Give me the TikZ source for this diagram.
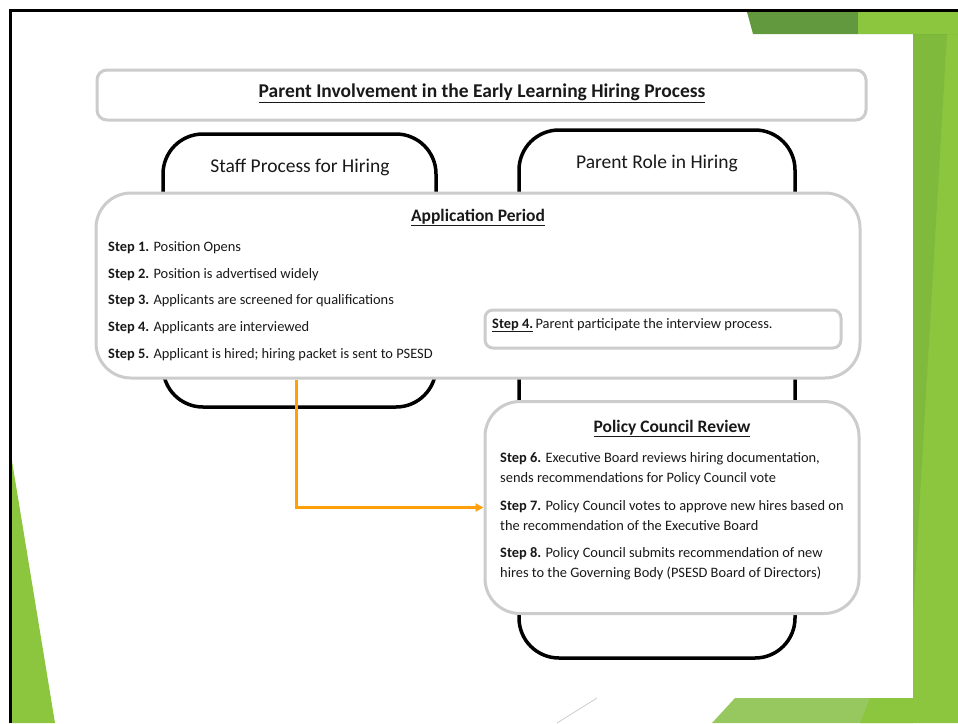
\documentclass[tikz,border=0pt]{standalone}
\usepackage{fontspec}
\setmainfont{Carlito}
\usetikzlibrary{arrows.meta}
\definecolor{lime}{RGB}{140,198,63}
\definecolor{midgreen}{RGB}{128,186,60}
\definecolor{darkgreen}{RGB}{98,152,62}
\definecolor{palegreen}{RGB}{150,200,95}
\definecolor{boxgray}{RGB}{204,204,204}
\definecolor{arroworange}{RGB}{255,160,10}
\definecolor{txt}{RGB}{25,25,25}
\begin{document}
\begin{tikzpicture}[x=1pt,y=-1pt,
  graybox/.style={draw=boxgray, line width=3pt, fill=white, rounded corners=#1, inner sep=0pt},
  tabbox/.style={draw=black, line width=3.5pt, fill=white, rounded corners=40pt, inner sep=0pt},
  steptxt/.style={anchor=base west, inner sep=0pt, font=\fontsize{14.4}{17}\selectfont, text=txt},
  headtxt/.style={anchor=base, inner sep=0pt, font=\fontsize{17.5}{21}\selectfont\bfseries, text=txt},
  tabtxt/.style={anchor=base, inner sep=0pt, font=\fontsize{19.5}{23}\selectfont, text=txt},
  orangearrow/.style={draw=arroworange, line width=3pt, -{Triangle[length=8pt,width=8pt]}}
]
\useasboundingbox (0,0) rectangle (958,723);
% decorations
\fill[lime] (913,34) -- (958,34) -- (958,723) -- (913,723) -- cycle;
\fill[midgreen] (913,34) -- (947,34) -- (913,617) -- cycle;
\fill[darkgreen] (747,12) -- (958,12) -- (958,34) -- (753,34) -- cycle;
\fill[lime] (858,12) -- (958,12) -- (958,34) -- (858,34) -- cycle;
\fill[palegreen] (712,723) -- (735,698) -- (913,698) -- (913,723) -- cycle;
\fill[lime] (860,723) -- (870,698) -- (958,698) -- (958,723) -- cycle;
\fill[lime] (11,455) -- (11,723) -- (55,723) -- cycle;
\draw[black!20, line width=0.8pt] (557,723) -- (597,698);
\draw[line width=3pt] (10,723) -- (10,10) -- (958,10);

% title
\node[graybox=10pt, minimum width=769pt, minimum height=50pt] (title) at (481.5,95) {};
\node[headtxt, font=\fontsize{19.5}{23}\selectfont\bfseries] (titletxt) at (482,97) {\underline{Parent Involvement in the Early Learning Hiring Process}};

% tabs
\node[tabbox, minimum width=273pt, minimum height=273pt] (staff) at (299.5,270.5) {};
\node[tabbox, minimum width=276pt, minimum height=528pt] (parent) at (657,394) {};
\node[tabtxt] (stafftxt) at (300,172) {Staff Process for Hiring};
\node[tabtxt] (parenttxt) at (657,168) {Parent Role in Hiring};

% application box
\node[graybox=35pt, minimum width=764pt, minimum height=185pt] (app) at (478,285.5) {};
\node[headtxt] (apphead) at (478,221) {\underline{Application Period}};
\node[steptxt] (s1) at (108,251) {\textbf{Step 1.} Position Opens};
\node[steptxt] (s2) at (108,278) {\textbf{Step 2.} Position is advertised widely};
\node[steptxt] (s3) at (108,304.5) {\textbf{Step 3.} Applicants are screened for qualifications};
\node[steptxt] (s4) at (108,331) {\textbf{Step 4.} Applicants are interviewed};
\node[steptxt] (s5) at (108,358) {\textbf{Step 5.} Applicant is hired; hiring packet is sent to PSESD};

% parent step 4
\node[graybox=8pt, minimum width=356pt, minimum height=38pt] (p4) at (663,329) {};
\node[steptxt] (p4txt) at (492,328) {\underline{\textbf{Step 4.}}\,Parent participate the interview process.};

% policy council
\node[graybox=35pt, minimum width=374pt, minimum height=212pt] (policy) at (672,507.5) {};
\node[headtxt] (polhead) at (672,432) {\underline{Policy Council Review}};
\node[steptxt] (s6a) at (500,462) {\textbf{Step 6.} Executive Board reviews hiring documentation,};
\node[steptxt] (s6b) at (500,482) {sends recommendations for Policy Council vote};
\node[steptxt] (s7a) at (500,510) {\textbf{Step 7.} Policy Council votes to approve new hires based on};
\node[steptxt] (s7b) at (500,530) {the recommendation of the Executive Board};
\node[steptxt] (s8a) at (500,557) {\textbf{Step 8.} Policy Council submits recommendation of new};
\node[steptxt] (s8b) at (500,577) {hires to the Governing Body (PSESD Board of Directors)};

% arrow
\draw[orangearrow] ([xshift=202pt]app.south west) |- (policy.west);
\end{tikzpicture}
\end{document}
